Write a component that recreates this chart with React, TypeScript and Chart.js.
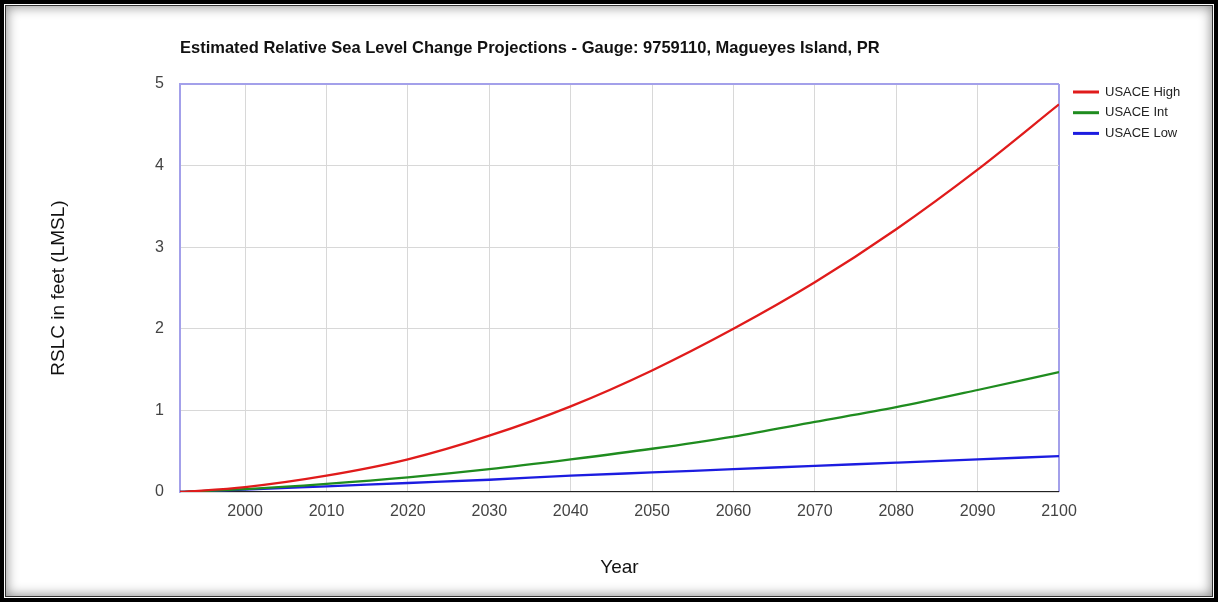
import React, { useEffect, useRef } from 'react';
import { Chart, registerables } from 'chart.js';

Chart.register(...registerables);

const chartTitle = 'Estimated Relative Sea Level Change Projections - Gauge: 9759110, Magueyes Island, PR';
const xAxisTitle = 'Year';
const yAxisTitle = 'RSLC in feet (LMSL)';

const years = [1992, 2000, 2010, 2020, 2030, 2040, 2050, 2060, 2070, 2080, 2090, 2100];
const usaceHigh = [0, 0.06, 0.2, 0.4, 0.69, 1.05, 1.49, 2.0, 2.57, 3.22, 3.95, 4.75];
const usaceInt = [0, 0.035, 0.1, 0.18, 0.28, 0.4, 0.53, 0.68, 0.86, 1.04, 1.25, 1.47];
const usaceLow = [0, 0.03, 0.07, 0.11, 0.15, 0.2, 0.24, 0.28, 0.32, 0.36, 0.4, 0.44];
const baseline = [0, 0];
const baselineYears = [1992, 2100];

const seriesNames = ['USACE High', 'USACE Int', 'USACE Low'];
const seriesColors = ['#e01b1b', '#1f8c1f', '#1c1ce0'];

const xTicks = [2000, 2010, 2020, 2030, 2040, 2050, 2060, 2070, 2080, 2090, 2100];
const yTicks = [0, 1, 2, 3, 4, 5];

const FONT = '"Liberation Sans", Arial, sans-serif';
const BORDER_PURPLE = '#a3a0ea';
const GRID_GRAY = '#d8d8d8';

const overlayPlugin = {
  id: 'overlay',
  afterDraw(chart: any) {
    const { ctx, chartArea } = chart;
    ctx.save();
    // Title
    ctx.font = `bold 16.5px ${FONT}`;
    ctx.fillStyle = '#111';
    ctx.textBaseline = 'middle';
    ctx.textAlign = 'left';
    ctx.fillText(chartTitle, chartArea.left, 48);
    // Legend
    ctx.font = `13px ${FONT}`;
    seriesNames.forEach((name, i) => {
      const y = chartArea.top + 8 + i * 20.7;
      const x0 = chartArea.right + 14;
      ctx.strokeStyle = seriesColors[i];
      ctx.lineWidth = 3;
      ctx.beginPath();
      ctx.moveTo(x0, y);
      ctx.lineTo(x0 + 26, y);
      ctx.stroke();
      ctx.fillStyle = '#222';
      ctx.fillText(name, x0 + 32, y);
    });
    ctx.restore();
  },
};

export default function App() {
  const ref = useRef<HTMLCanvasElement | null>(null);

  useEffect(() => {
    if (!ref.current) return;
    const mk = (xs: number[], ys: number[]) => xs.map((x, i) => ({ x, y: ys[i] }));
    const seriesData = [usaceHigh, usaceInt, usaceLow];
    const chart = new Chart(ref.current, {
      type: 'line',
      data: {
        datasets: [
          ...seriesData.map((d, i) => ({
            label: seriesNames[i],
            data: mk(years, d),
            borderColor: seriesColors[i],
            backgroundColor: seriesColors[i],
            borderWidth: 2.3,
            pointRadius: 0,
            cubicInterpolationMode: 'monotone' as const,
            fill: false,
          })),
          {
            label: 'baseline',
            data: mk(baselineYears, baseline),
            borderColor: '#222',
            borderWidth: 2,
            pointRadius: 0,
            fill: false,
          },
        ],
      },
      options: {
        responsive: false,
        animation: false,
        devicePixelRatio: 1,
        layout: { padding: { top: 84, left: 0, right: 159, bottom: 20 } },
        plugins: {
          legend: { display: false },
          title: { display: false },
          tooltip: { enabled: false },
        },
        scales: {
          x: {
            type: 'linear',
            min: 1992,
            max: 2100,
            afterBuildTicks: (scale: any) => {
              scale.ticks = xTicks.map((v) => ({ value: v }));
            },
            afterFit: (scale: any) => {
              scale.height = 90;
            },
            ticks: {
              font: { family: FONT, size: 16 },
              color: '#444',
              padding: 10,
              maxRotation: 0,
              callback: (v: any) => String(v),
            },
            grid: {
              drawTicks: false,
              color: (c: any) => (c.tick && c.tick.value === 2100 ? BORDER_PURPLE : GRID_GRAY),
              lineWidth: (c: any) => (c.tick && c.tick.value === 2100 ? 2 : 1),
            },
            border: { display: false },
            title: {
              display: true,
              text: xAxisTitle,
              font: { family: FONT, size: 19 },
              color: '#111',
              padding: { top: 0, bottom: 3 },
            },
          },
          y: {
            type: 'linear',
            min: 0,
            max: 5,
            afterBuildTicks: (scale: any) => {
              scale.ticks = yTicks.map((v) => ({ value: v }));
            },
            afterFit: (scale: any) => {
              scale.width = 180;
            },
            ticks: {
              font: { family: FONT, size: 16 },
              color: '#444',
              padding: 16,
            },
            grid: {
              drawTicks: false,
              color: (c: any) => (c.tick && c.tick.value === 5 ? BORDER_PURPLE : GRID_GRAY),
              lineWidth: (c: any) => (c.tick && c.tick.value === 5 ? 2 : 1),
            },
            border: { display: true, color: BORDER_PURPLE, width: 2 },
            title: {
              display: true,
              text: yAxisTitle,
              font: { family: FONT, size: 19 },
              color: '#111',
              padding: { top: 47, bottom: 0 },
            },
          },
        },
      },
      plugins: [overlayPlugin],
    });
    return () => chart.destroy();
  }, []);

  return (
    <>
      <div
        style={{
          position: 'absolute',
          left: 0,
          top: 0,
          width: 1218,
          height: 602,
          boxSizing: 'border-box',
          border: '4px solid #000',
          background: '#fff',
        }}
      >
        <div
          style={{
            position: 'absolute',
            inset: 1,
            border: '1px solid #333',
            boxShadow: 'inset 0 0 12px 1px rgba(0,0,0,0.45)',
          }}
        />
      </div>
      <canvas
        ref={ref}
        width={1218}
        height={602}
        style={{ position: 'absolute', left: 0, top: 0, width: 1218, height: 602 }}
      />
    </>
  );
}
